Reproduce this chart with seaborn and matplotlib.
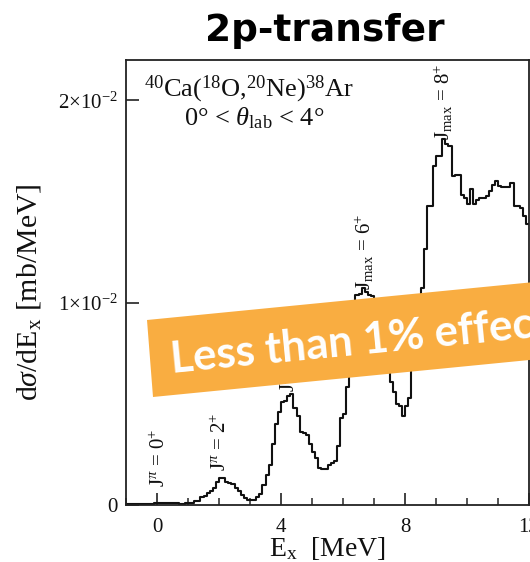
import numpy as np
import pandas as pd
import matplotlib
matplotlib.use("Agg")
import matplotlib.pyplot as plt
from matplotlib.patches import Polygon
from matplotlib.ticker import MultipleLocator, FixedLocator, FixedFormatter
import seaborn as sns

# Excitation-energy spectrum of 40Ca(18O,20Ne)38Ar, 0.1 MeV bins from -1 to 12 MeV
bin_start = -1.0
bin_width = 0.1
# cross section per bin, in units of 1e-3 mb/MeV
xsec_1e3 = [
    0.03, 0.03, 0.03, 0.03, 0.04, 0.04, 0.04, 0.05, 0.05, 0.08,   # -1 .. 0
    0.10, 0.10, 0.08, 0.08, 0.10, 0.08, 0.08, 0.06, 0.06, 0.08,   #  0 .. 1
    0.10, 0.10, 0.20, 0.20, 0.38, 0.45, 0.60, 0.71, 0.84, 1.14,   #  1 .. 2
    1.34, 1.34, 1.16, 1.10, 1.04, 0.84, 0.67, 0.50, 0.36, 0.25,   #  2 .. 3
    0.25, 0.25, 0.38, 0.55, 1.00, 1.50, 2.00, 3.00, 4.00, 4.60,   #  3 .. 4
    5.10, 5.15, 5.40, 5.50, 4.80, 4.40, 3.60, 3.55, 3.45, 3.00,   #  4 .. 5
    2.60, 2.30, 1.85, 1.80, 1.80, 2.00, 2.10, 2.20, 2.90, 4.30,   #  5 .. 6
    4.50, 5.85, 7.50, 9.20, 10.40, 10.45, 10.75, 10.55, 10.40, 10.35,  # 6 .. 7
    9.20, 8.20, 7.50, 7.00, 6.60, 6.10, 5.60, 5.00, 4.90, 4.40,   #  7 .. 8
    4.90, 5.30, 6.80, 8.00, 9.50, 10.75, 12.65, 14.80, 14.80, 16.75,  # 8 .. 9
    17.25, 17.25, 18.10, 17.85, 17.75, 16.25, 16.30, 16.30, 15.35, 15.20,  # 9 .. 10
    14.90, 15.60, 14.90, 15.10, 15.20, 15.20, 15.30, 15.50, 15.80, 16.00,  # 10 .. 11
    15.75, 15.70, 15.70, 15.70, 15.90, 14.80, 14.80, 14.70, 14.30, 13.90,  # 11 .. 12
]

# state labels: text, energy [MeV], height of label foot [mb/MeV]
state_labels = [r"J$^{\pi}$ = 0$^{+}$", r"J$^{\pi}$ = 2$^{+}$",
                r"J$^{\pi}$ = 4$^{+}$", r"J$_{\mathrm{max}}$ = 6$^{+}$",
                r"J$_{\mathrm{max}}$ = 8$^{+}$"]
state_energy = [0.08, 2.06, 4.3, 6.7, 9.23]
state_height = [0.00089, 0.00168, 0.00559, 0.01063, 0.01805]

x_ticks = [0, 4, 8, 12]
y_ticks = [0.0, 0.01, 0.02]
y_ticklabels = ["0", r"$1{\times}10^{-2}$", r"$2{\times}10^{-2}$"]

n_bins = len(xsec_1e3)
edges = [round(bin_start + bin_width * i, 6) for i in range(n_bins + 1)]
centers = [0.5 * (a + b) for a, b in zip(edges[:-1], edges[1:])]
df = pd.DataFrame({"Ex": centers, "xsec": np.array(xsec_1e3) * 1e-3})

sns.set_theme(style="ticks")
plt.rcParams.update({
    "font.family": ["Liberation Serif", "DejaVu Serif"],
    "mathtext.fontset": "custom",
    "mathtext.rm": "Liberation Serif",
    "mathtext.it": "Liberation Serif:italic",
    "mathtext.bf": "Liberation Serif:bold",
    "axes.edgecolor": "#222222",
    "axes.linewidth": 1.3,
    "text.color": "#111111",
    "axes.labelcolor": "#111111",
})

W, H = 530, 562
fig = plt.figure(figsize=(W / 100, H / 100), dpi=100)
ax = fig.add_axes([126 / W, 1 - 505 / H, (529 - 126) / W, (505 - 60) / H])

sns.histplot(data=df, x="Ex", weights="xsec", bins=edges, element="step",
             fill=False, color="#111111", linewidth=1.5, ax=ax)

ax.set_xlim(-1, 12)
ax.set_ylim(0, 0.0220)
ax.xaxis.set_major_locator(FixedLocator(x_ticks))
ax.xaxis.set_minor_locator(MultipleLocator(1))
ax.yaxis.set_major_locator(FixedLocator(y_ticks))
ax.yaxis.set_major_formatter(FixedFormatter(y_ticklabels))
ax.tick_params(axis="both", which="major", direction="in", length=9, width=1.2,
               labelsize=15, color="#222222", labelcolor="#111111")
ax.tick_params(axis="x", which="minor", direction="in", length=5, width=1.1)
ax.tick_params(axis="x", which="major", pad=9)
ax.tick_params(axis="y", which="major", pad=6)

ax.set_xlabel(r"E$_{\mathrm{x}}$  [MeV]", fontsize=20, labelpad=-1)
ax.set_ylabel(r"d$\sigma$/dE$_{\mathrm{x}}$ [mb/MeV]", fontsize=21.5)
ax.yaxis.set_label_coords(-0.205, 0.479)

ax.text(0.305, 0.917, r"$^{40}$Ca($^{18}$O,$^{20}$Ne)$^{38}$Ar", transform=ax.transAxes,
        ha="center", va="baseline", fontsize=19)
ax.text(0.318, 0.854, r"0° < $\theta_{\mathrm{lab}}$ < 4°", transform=ax.transAxes,
        ha="center", va="baseline", fontsize=19)

for txt, e, h in zip(state_labels, state_energy, state_height):
    ax.text(e, h, txt, rotation=90, ha="center", va="bottom", fontsize=15)

fig.text(325 / W, 1 - 41 / H, "2p-transfer", ha="center", va="baseline",
         fontsize=27, fontweight="bold", family="DejaVu Sans", color="black")


def px(x, y):
    return (x / W, 1 - y / H)


# highlighted remark across the spectrum
banner = Polygon([px(147, 320), px(153, 397), px(570, 356), px(565, 279)],
                 closed=True, transform=fig.transFigure, facecolor="#F9AD41",
                 edgecolor="none", zorder=10)
fig.add_artist(banner)
fig.text(*px(171, 360), "Less than 1% effect", rotation=5.6, rotation_mode="anchor",
         ha="left", va="center", color="white", fontsize=31.5, fontweight="bold",
         family=["Lato", "DejaVu Sans"], zorder=11)

fig.savefig("out.png", dpi=100)
